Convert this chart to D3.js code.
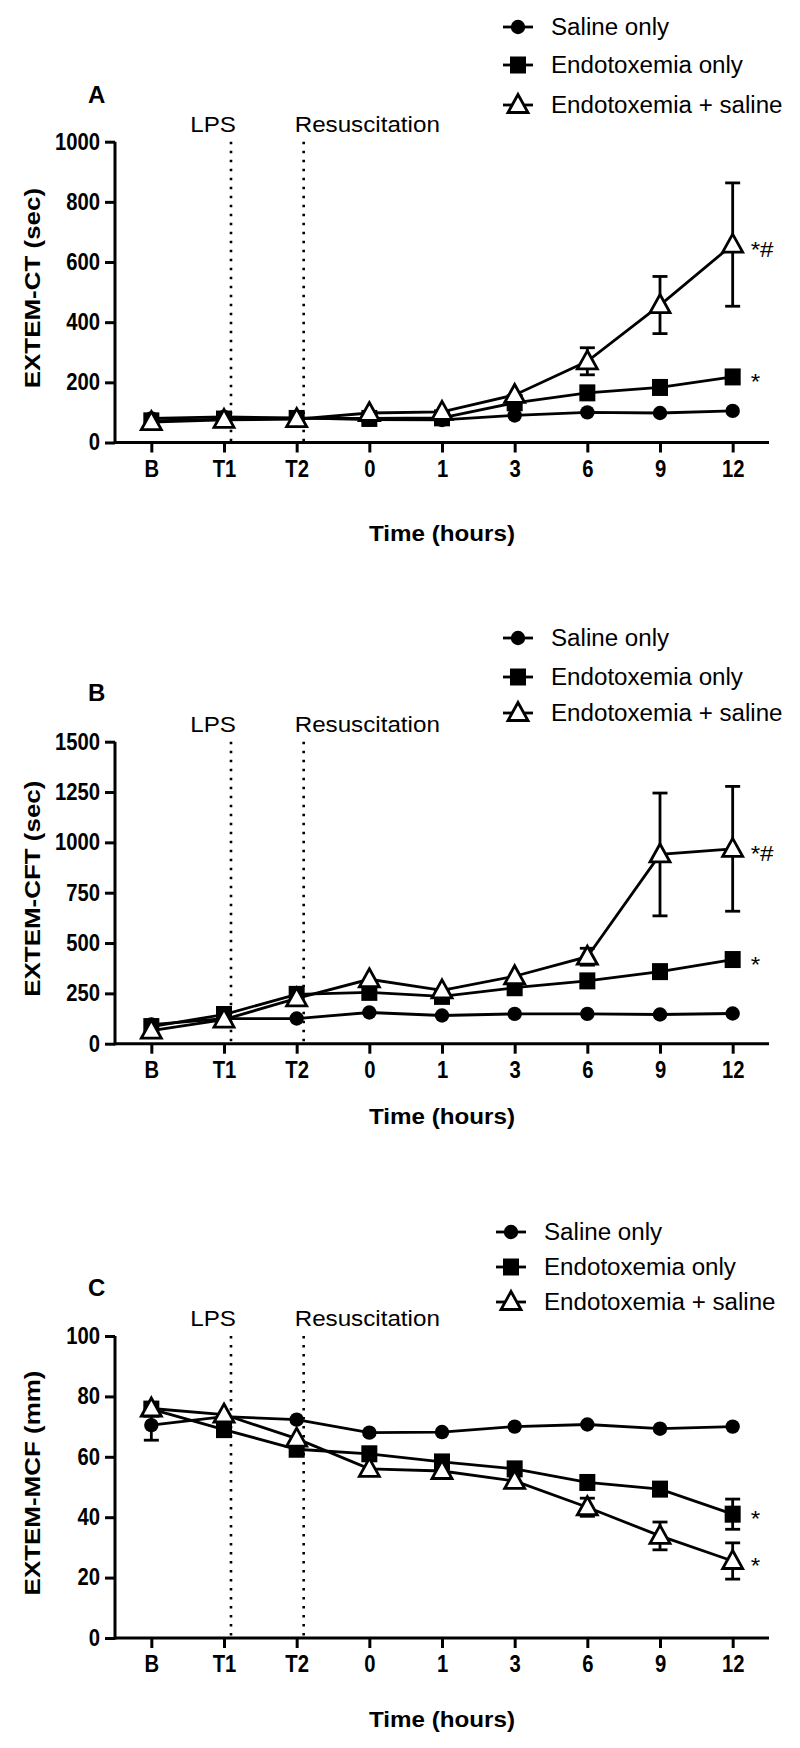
<!DOCTYPE html>
<html><head><meta charset="utf-8">
<script src="https://cdn.jsdelivr.net/npm/d3@7"></script>
<style>
html,body{margin:0;padding:0;background:#fff;}
svg{display:block;}
</style>
</head><body>
<svg id="chart" width="800" height="1748"></svg>
<script>
// ---------- data ----------
const categories = ["B","T1","T2","0","1","3","6","9","12"];
const seriesNames = ["Saline only","Endotoxemia only","Endotoxemia + saline"];

// Panel A: EXTEM-CT (sec)
const ctTicks = [0,200,400,600,800,1000];
const ctSaline = [80,85,82,76,75,90,100,98,105];
const ctEndo = [72,78,80,80,82,132,165,183,218];
const ctEndoSaline = [68,75,78,98,102,158,270,457,658];
const ctSalineErr = [0,0,0,0,0,0,0,0,0];
const ctEndoErr = [0,0,0,0,0,0,0,0,20];
const ctEndoSalineErr = [0,0,0,0,0,0,45,95,205];

// Panel B: EXTEM-CFT (sec)
const cftTicks = [0,250,500,750,1000,1250,1500];
const cftSaline = [95,125,125,155,140,148,148,145,150];
const cftEndo = [85,145,245,255,235,278,312,358,418];
const cftEndoSaline = [65,120,225,320,265,335,432,940,968];
const cftSalineErr = [0,0,0,0,0,0,0,0,0];
const cftEndoErr = [0,0,0,0,0,0,0,0,0];
const cftEndoSalineErr = [0,0,0,0,0,0,42,305,310];

// Panel C: EXTEM-MCF (mm)
const mcfTicks = [0,20,40,60,80,100];
const mcfSaline = [70.5,73.3,72.3,68,68.2,70,70.7,69.3,70];
const mcfEndo = [75.8,69,62.5,61,58.3,56,51.5,49.3,41];
const mcfEndoSaline = [76,74,66,56,55.3,52,43.3,33.8,25.5];
const mcfSalineErr = [5,0,0,0,0,0,0,0,0];
const mcfEndoErr = [0,0,0,0,0,0,0,0,5];
const mcfEndoSalineErr = [0,0,0,0,0,0,3,4.6,6];

const eventLabels = ["LPS","Resuscitation"];
const xTitle = "Time (hours)";

// ---------- drawing ----------
const svg = d3.select("#chart");
svg.append("rect").attr("width",800).attr("height",1748).attr("fill","#fff");
const FONT = "Arial, 'Liberation Sans', Helvetica, sans-serif";
const SW = 2.8;

function stretchedText(g, x, y, str, opts) {
  const sx = opts.sx || 1.1;
  const t = g.append("g").attr("transform", `translate(${x},${y}) ${opts.rotate ? "rotate(-90)" : ""} scale(${sx},1)`)
    .append("text")
    .attr("font-family", FONT)
    .attr("font-size", opts.size)
    .attr("font-weight", opts.bold ? "bold" : "normal")
    .attr("text-anchor", opts.anchor || "start")
    .attr("fill", "#000")
    .text(str);
  return t;
}

function marker(g, type, cx, cy) {
  if (type === 0) {
    g.append("circle").attr("cx", cx).attr("cy", cy).attr("r", 7.2).attr("fill", "#000");
  } else if (type === 1) {
    g.append("rect").attr("x", cx - 8).attr("y", cy - 8.5).attr("width", 16).attr("height", 17).attr("fill", "#000");
  } else {
    const p = d3.path();
    p.moveTo(cx, cy - 10.5); p.lineTo(cx + 10, cy + 7.5); p.lineTo(cx - 10, cy + 7.5); p.closePath();
    g.append("path").attr("d", p.toString()).attr("fill", "#fff").attr("stroke", "#000").attr("stroke-width", SW).attr("stroke-linejoin", "miter");
  }
}

const TICK_SX = 0.88;

function drawPanel(cfg) {
  const g = svg.append("g");
  const x = d3.scalePoint().domain(categories).range([115, 769]).padding(0.5);
  const y = d3.scaleLinear().domain([cfg.ticks[0], cfg.ticks[cfg.ticks.length - 1]]).range([cfg.bottom, cfg.top]);

  // dotted event lines
  ["T1","T2"].forEach((c, i) => {
    g.append("line").attr("x1", x(c) + 7).attr("x2", x(c) + 7)
      .attr("y1", cfg.top).attr("y2", cfg.bottom)
      .attr("stroke", "#000").attr("stroke-width", 2.6)
      .attr("stroke-dasharray", "2.6,6.4");
  });
  stretchedText(g, x("T1") + 12, cfg.labelY, eventLabels[0], {size: 22, anchor: "end"});
  stretchedText(g, x("T2") - 2, cfg.labelY, eventLabels[1], {size: 22, anchor: "start"});

  // axes
  const yAxis = d3.axisLeft(y).tickValues(cfg.ticks).tickFormat(d3.format("d")).tickSize(10).tickSizeOuter(0).tickPadding(5);
  const ya = g.append("g").attr("transform", "translate(115,0)").call(yAxis);
  const xAxis = d3.axisBottom(x).tickSize(10).tickSizeOuter(0).tickPadding(8);
  const xa = g.append("g").attr("transform", `translate(0,${cfg.bottom})`).call(xAxis);
  [ya, xa].forEach(a => {
    a.select(".domain").attr("stroke-width", 3).attr("stroke", "#000");
    a.selectAll(".tick line").attr("stroke-width", 3).attr("stroke", "#000");
    a.selectAll(".tick text").attr("font-family", FONT).attr("font-size", 23).attr("font-weight", "bold").attr("fill", "#000")
      .attr("transform", `scale(${TICK_SX},1)`);
  });
  ya.selectAll(".tick text").attr("x", -15 / TICK_SX);
  xa.select(".domain").attr("d", `M115,0H769`);
  ya.select(".domain").attr("d", `M0,${cfg.top}V${cfg.bottom + 1.5}`);

  // axis titles
  stretchedText(g, 40, (cfg.top + cfg.bottom) / 2 - 4, cfg.yTitle, {size: 22, bold: true, anchor: "middle", rotate: true, sx: 1.18});
  stretchedText(g, 442, cfg.xTitleY, xTitle, {size: 22, bold: true, anchor: "middle"});

  // panel letter
  g.append("text").attr("x", 88).attr("y", cfg.letterY)
    .attr("font-family", FONT).attr("font-size", 24).attr("font-weight", "bold").text(cfg.letter);

  // error bars
  cfg.series.forEach((s, si) => {
    s.vals.forEach((v, i) => {
      const e = s.errs[i];
      if (!e) return;
      const cx = x(categories[i]);
      const y1 = y(v + e), y2 = y(v - e);
      g.append("line").attr("x1", cx).attr("x2", cx).attr("y1", y1).attr("y2", y2).attr("stroke", "#000").attr("stroke-width", SW);
      [y1, y2].forEach(yy => g.append("line").attr("x1", cx - 7.5).attr("x2", cx + 7.5).attr("y1", yy).attr("y2", yy).attr("stroke", "#000").attr("stroke-width", SW));
    });
  });

  // lines + markers
  const line = d3.line().x((d, i) => x(categories[i])).y(d => y(d));
  cfg.series.forEach((s, si) => {
    g.append("path").attr("d", line(s.vals)).attr("fill", "none").attr("stroke", "#000").attr("stroke-width", SW);
  });
  cfg.series.forEach((s, si) => {
    s.vals.forEach((v, i) => marker(g, si, x(categories[i]), y(v)));
  });

  // significance marks
  cfg.sig.forEach(sg => {
    const s = cfg.series[sg.idx];
    const last = s.vals.length - 1;
    stretchedText(g, x(categories[last]) + 18, y(s.vals[last]) + 12, sg.text, {size: 22});
  });

  // legend
  seriesNames.forEach((name, i) => {
    const ly = cfg.legendY[i];
    const lx = cfg.legendX;
    g.append("line").attr("x1", lx - 15).attr("x2", lx + 15).attr("y1", ly).attr("y2", ly).attr("stroke", "#000").attr("stroke-width", SW);
    marker(g, i, lx, ly);
    stretchedText(g, lx + 33, ly + 8, name, {size: 23, sx: 1.05});
  });
}

drawPanel({
  top: 141.7, bottom: 442.5, ticks: ctTicks, letter: "A", yTitle: "EXTEM-CT (sec)", xTitleY: 541,
  letterY: 103, labelY: 131.5,
  series: [{vals: ctSaline, errs: ctSalineErr}, {vals: ctEndo, errs: ctEndoErr}, {vals: ctEndoSaline, errs: ctEndoSalineErr}],
  sig: [{idx: 2, text: "*#"}, {idx: 1, text: "*"}],
  legendX: 518, legendY: [27, 65, 105]
});
drawPanel({
  top: 741.7, bottom: 1043.7, ticks: cftTicks, letter: "B", yTitle: "EXTEM-CFT (sec)", xTitleY: 1124,
  letterY: 700.5, labelY: 731.5,
  series: [{vals: cftSaline, errs: cftSalineErr}, {vals: cftEndo, errs: cftEndoErr}, {vals: cftEndoSaline, errs: cftEndoSalineErr}],
  sig: [{idx: 2, text: "*#"}, {idx: 1, text: "*"}],
  legendX: 518, legendY: [638, 677, 713]
});
drawPanel({
  top: 1336, bottom: 1638, ticks: mcfTicks, letter: "C", yTitle: "EXTEM-MCF (mm)", xTitleY: 1727,
  letterY: 1296, labelY: 1326,
  series: [{vals: mcfSaline, errs: mcfSalineErr}, {vals: mcfEndo, errs: mcfEndoErr}, {vals: mcfEndoSaline, errs: mcfEndoSalineErr}],
  sig: [{idx: 1, text: "*"}, {idx: 2, text: "*"}],
  legendX: 511, legendY: [1232, 1267, 1302]
});
</script>
</body></html>
